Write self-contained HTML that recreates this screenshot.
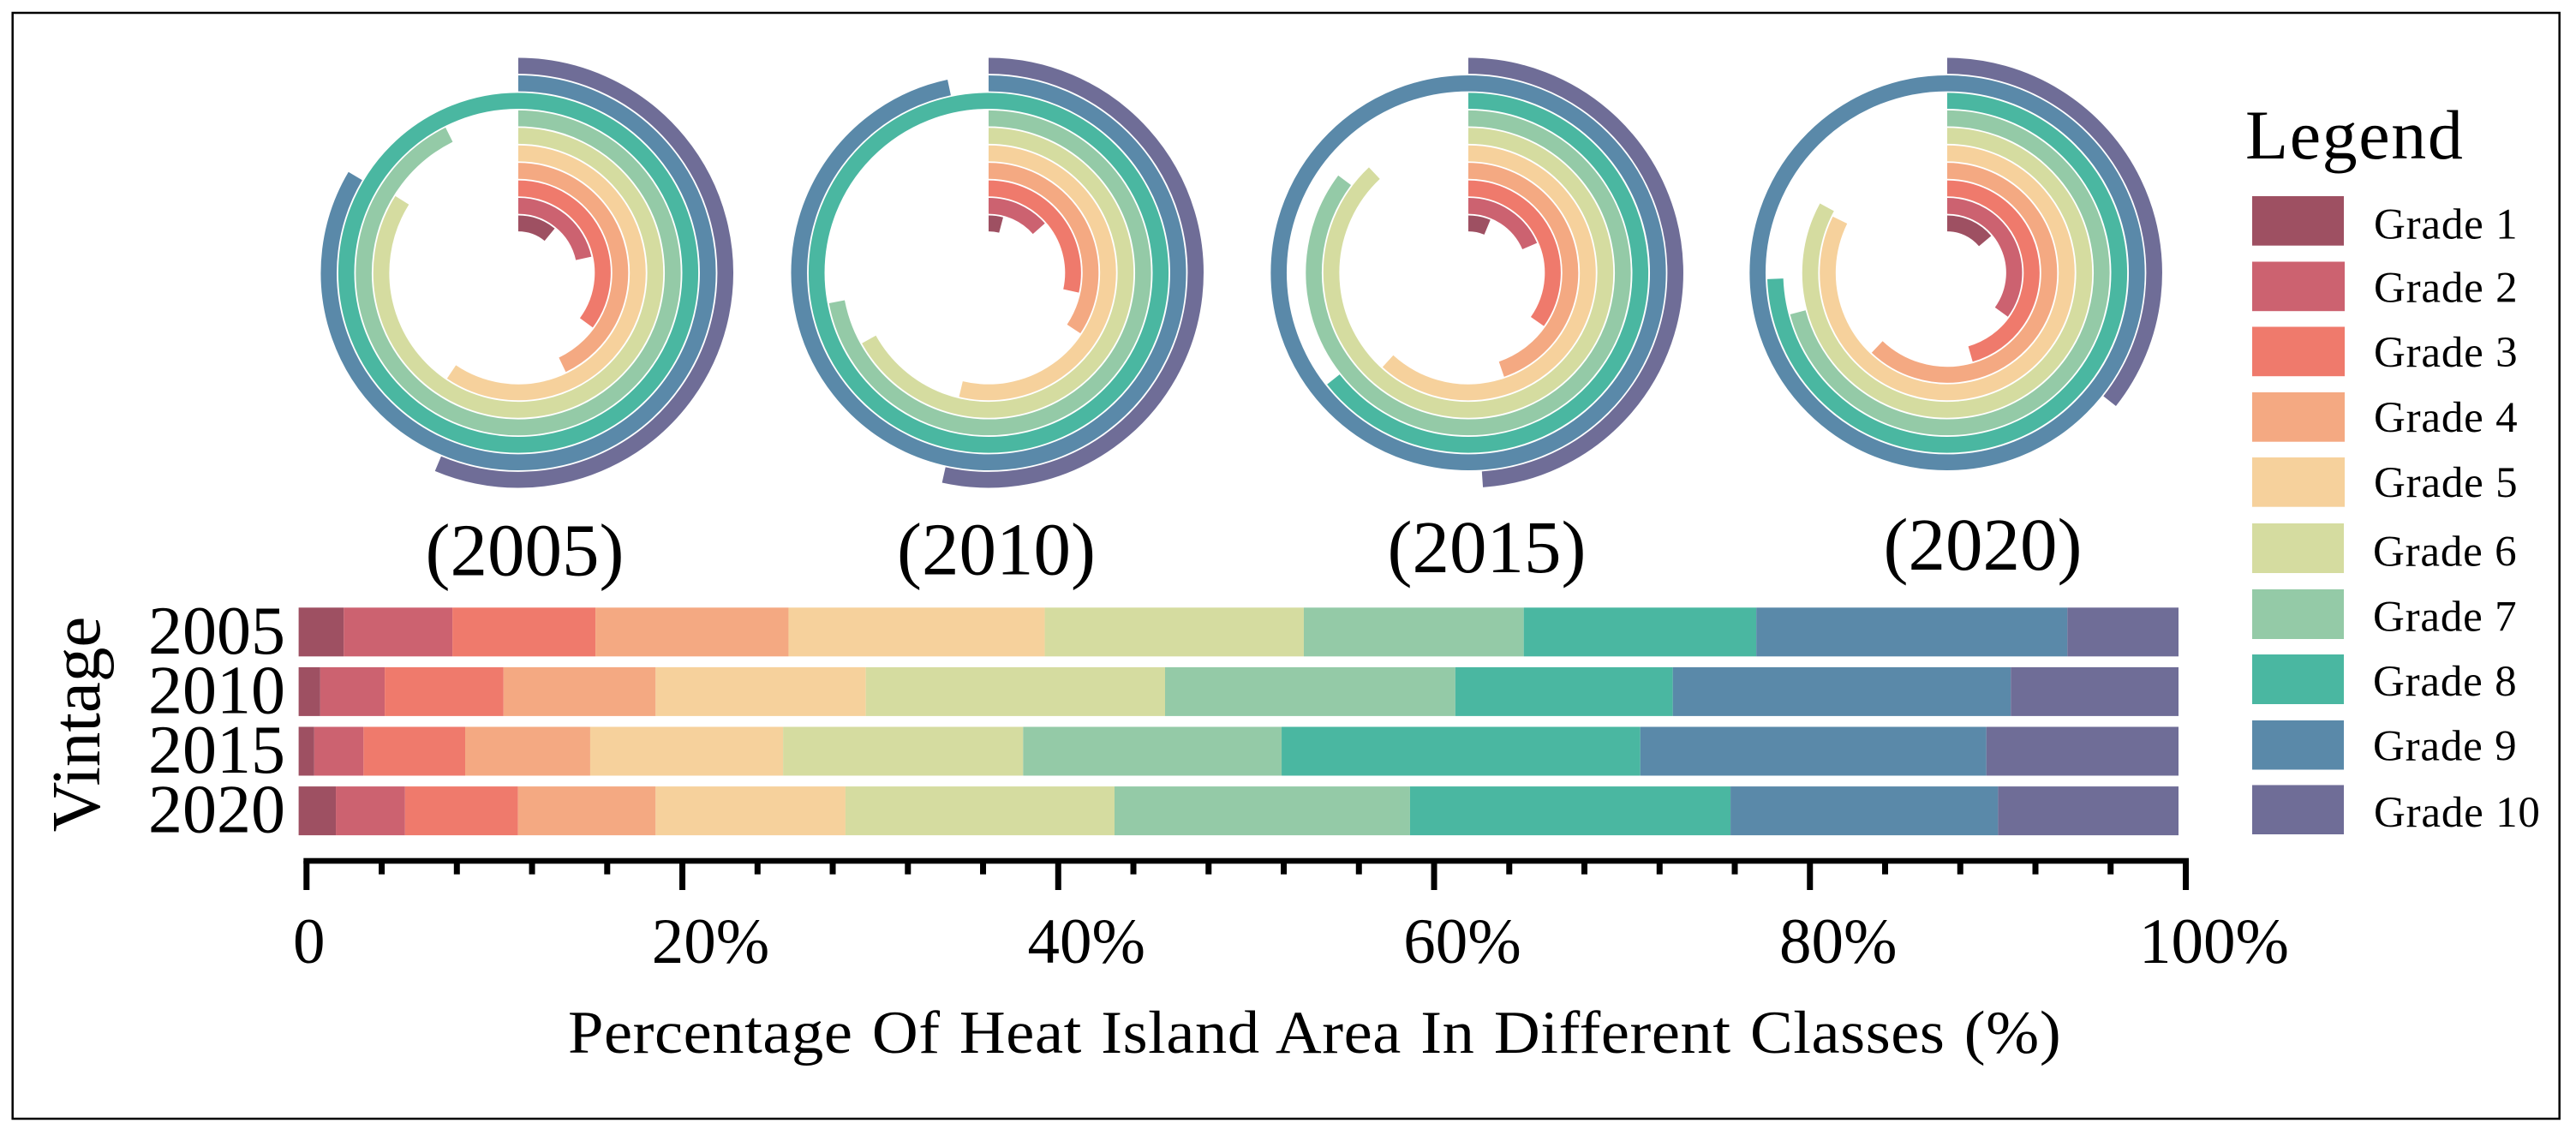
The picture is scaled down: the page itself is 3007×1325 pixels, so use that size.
<!DOCTYPE html>
<html lang="en">
<head>
<meta charset="utf-8">
<title>Percentage Of Heat Island Area In Different Classes</title>
<style>
  html, body { margin: 0; padding: 0; background: #fff; }
  svg { display: block; }
  text { font-family: "Liberation Serif", "Times New Roman", serif; fill: #000; }
</style>
</head>
<body>
<svg id="chart" xmlns="http://www.w3.org/2000/svg" width="3007" height="1325" viewBox="0 0 3007 1325">
  <rect x="0" y="0" width="3007" height="1325" fill="#ffffff"/>
  <rect x="14.7" y="15" width="2973" height="1291" fill="none" stroke="#000" stroke-width="2.5"/>

  <g id="donuts"></g>
  <g id="bars"></g>
  <g id="axis"></g>

  <text transform="translate(116 845.5) rotate(-90)" text-anchor="middle" font-size="81">Vintage</text>
  <text transform="translate(663 1229) scale(1.05 1)" x="0" y="0" font-size="71" word-spacing="3" letter-spacing="0.53">Percentage Of Heat Island Area In Different Classes (%)</text>

  <g>
    <text x="2621" y="185" font-size="82" letter-spacing="1.6">Legend</text>

    <rect x="2629" y="229" width="107" height="57.7" fill="#9e5062"/>
    <text x="2771" y="278.5" font-size="51" letter-spacing="0.8">Grade 1</text>
    <rect x="2629" y="305.5" width="108" height="57.7" fill="#cc6270"/>
    <text x="2771" y="352.5" font-size="51" letter-spacing="0.8">Grade 2</text>
    <rect x="2629" y="381.5" width="108" height="57.7" fill="#ef7a6c"/>
    <text x="2771" y="428" font-size="51" letter-spacing="0.8">Grade 3</text>
    <rect x="2629" y="458" width="108" height="57.7" fill="#f4a982"/>
    <text x="2771" y="504" font-size="51" letter-spacing="0.8">Grade 4</text>
    <rect x="2629" y="534" width="108" height="57.7" fill="#f6d19c"/>
    <text x="2771" y="580" font-size="51" letter-spacing="0.8">Grade 5</text>
    <rect x="2629" y="611" width="107" height="58" fill="#d5dca0"/>
    <text x="2770" y="660.5" font-size="51" letter-spacing="0.8">Grade 6</text>
    <rect x="2629" y="688" width="107" height="58" fill="#94caa7"/>
    <text x="2770" y="736.5" font-size="51" letter-spacing="0.8">Grade 7</text>
    <rect x="2629" y="764" width="107" height="58" fill="#4ab7a1"/>
    <text x="2770" y="812" font-size="51" letter-spacing="0.8">Grade 8</text>
    <rect x="2629" y="841" width="107" height="57.5" fill="#5a89a9"/>
    <text x="2770" y="887.5" font-size="51" letter-spacing="0.8">Grade 9</text>
    <rect x="2629" y="916.5" width="107" height="57.5" fill="#6f6d97"/>
    <text x="2771" y="965" font-size="51" letter-spacing="0.8">Grade 10</text>
  </g>
</svg>

<script>
// ---- Data ----
const vintages = ["2005", "2010", "2015", "2020"];
const grades = ["Grade 1", "Grade 2", "Grade 3", "Grade 4", "Grade 5", "Grade 6", "Grade 7", "Grade 8", "Grade 9", "Grade 10"];
const gradeColors = ["#9e5062", "#cc6270", "#ef7a6c", "#f4a982", "#f6d19c", "#d5dca0", "#94caa7", "#4ab7a1", "#5a89a9", "#6f6d97"];

// Stacked bar shares, percent of area per grade
const shares2005 = [2.4, 5.78, 7.61, 10.27, 13.63, 13.78, 11.7, 12.37, 16.55, 5.91];
const shares2010 = [1.15, 3.43, 6.32, 8.09, 11.18, 15.92, 15.44, 11.57, 17.98, 8.92];
const shares2015 = [0.83, 2.62, 5.41, 6.65, 10.26, 12.77, 13.75, 19.08, 18.41, 10.22];
const shares2020 = [1.98, 3.68, 6.01, 7.32, 10.1, 14.31, 15.72, 17.05, 14.23, 9.6];

// Radial bar sweep per grade, degrees clockwise from 12 o'clock
const sweep2005 = [39.4, 77.5, 126.3, 154.4, 214, 302, 333.4, 360, 300.7, 202.8];
const sweep2010 = [14.7, 48.7, 102.4, 123.4, 193.4, 240.9, 259.2, 360, 348, 192.5];
const sweep2015 = [22.6, 66.5, 125.2, 161, 222.3, 316.7, 306.8, 231.7, 360, 176.1];
const sweep2020 = [50, 125.9, 164, 223.4, 296.2, 298.6, 255.2, 268, 360, 128.3];

const xTicksMajor = [0, 20, 40, 60, 80, 100];
const xTickLabels = ["0", "20%", "40%", "60%", "80%", "100%"];
const xTicksMinor = [4, 8, 12, 16, 24, 28, 32, 36, 44, 48, 52, 56, 64, 68, 72, 76, 84, 88, 92, 96];

const allShares = [shares2005, shares2010, shares2015, shares2020];
const allSweeps = [sweep2005, sweep2010, sweep2015, sweep2020];

// ---- Axis functions ----
const SVGNS = "http://www.w3.org/2000/svg";
function barX(pct) { return 348.6 + pct * 21.944; }
function barTop(i) { return 709.3 + i * 69.6; }
const BAR_H = 57;
function axisX(pct) { return 357.8 + pct * 21.937; }
function ringOuter(k) { return 67 + k * 20.44; }
const RING_W = 18.6;
function donutCx(i) { return [605, 1154, 1714, 2273][i]; }
function donutCy() { return 318.5; }
function yearLabelX(i) { return [612.5, 1163, 1735.5, 2314.5][i]; }
function yearLabelY(i) { return [671.5, 670.7, 668, 665][i]; }

function point(cx, cy, r, deg) {
  const a = deg * Math.PI / 180;
  return [cx + r * Math.sin(a), cy - r * Math.cos(a)];
}
function arcPath(cx, cy, r, deg) {
  const d = Math.min(deg, 360);
  if (d >= 359.99) {
    const p0 = point(cx, cy, r, 0), p1 = point(cx, cy, r, 180);
    return "M" + p0[0] + " " + p0[1] + "A" + r + " " + r + " 0 1 1 " + p1[0] + " " + p1[1] +
           "A" + r + " " + r + " 0 1 1 " + p0[0] + " " + p0[1] + "Z";
  }
  const s = point(cx, cy, r, 0), e = point(cx, cy, r, d);
  return "M" + s[0] + " " + s[1] + "A" + r + " " + r + " 0 " + (d > 180 ? 1 : 0) + " 1 " + e[0] + " " + e[1];
}

// ---- Radial bars ----
const donutsG = document.getElementById("donuts");
vintages.forEach(function (year, i) {
  const g = document.createElementNS(SVGNS, "g");
  
  
  allSweeps[i].forEach(function (deg, k) {
    const p = document.createElementNS(SVGNS, "path");
    p.setAttribute("d", arcPath(donutCx(i), donutCy(), ringOuter(k) - RING_W / 2, deg));
    p.setAttribute("fill", "none");
    p.setAttribute("stroke", gradeColors[k]);
    p.setAttribute("stroke-width", RING_W);
    
    
    g.appendChild(p);
  });
  donutsG.appendChild(g);

  const t = document.createElementNS(SVGNS, "text");
  t.setAttribute("x", yearLabelX(i));
  t.setAttribute("y", yearLabelY(i));
  t.setAttribute("text-anchor", "middle");
  t.setAttribute("font-size", 87);
  t.textContent = "(" + year + ")";
  
  
  donutsG.appendChild(t);
});

// ---- Stacked bars ----
const barsG = document.getElementById("bars");
vintages.forEach(function (year, i) {
  let cum = 0;
  allShares[i].forEach(function (v, k) {
    const r = document.createElementNS(SVGNS, "rect");
    r.setAttribute("x", barX(cum));
    r.setAttribute("y", barTop(i));
    r.setAttribute("width", barX(cum + v) - barX(cum));
    r.setAttribute("height", BAR_H);
    r.setAttribute("fill", gradeColors[k]);
    
    
    barsG.appendChild(r);
    cum += v;
  });
  const t = document.createElementNS(SVGNS, "text");
  t.setAttribute("x", 333);
  t.setAttribute("y", barTop(i) + BAR_H / 2 + 25);
  t.setAttribute("text-anchor", "end");
  t.setAttribute("font-size", 80);
  t.textContent = year;
  
  
  barsG.appendChild(t);
});

// ---- X axis ----
const axisG = document.getElementById("axis");
const axisLine = document.createElementNS(SVGNS, "rect");
axisLine.setAttribute("x", axisX(0) - 3.5);
axisLine.setAttribute("y", 1001.7);
axisLine.setAttribute("width", axisX(100) - axisX(0) + 7);
axisLine.setAttribute("height", 6.6);
axisLine.setAttribute("fill", "#000");


axisG.appendChild(axisLine);

xTicksMinor.forEach(function (t) {
  const r = document.createElementNS(SVGNS, "rect");
  r.setAttribute("x", axisX(t) - 3.5);
  r.setAttribute("y", 1005);
  r.setAttribute("width", 7);
  r.setAttribute("height", 15.7);
  r.setAttribute("fill", "#000");
  
  
  axisG.appendChild(r);
});
xTicksMajor.forEach(function (t, i) {
  const r = document.createElementNS(SVGNS, "rect");
  r.setAttribute("x", axisX(t) - 3.5);
  r.setAttribute("y", 1005);
  r.setAttribute("width", 7);
  r.setAttribute("height", 34);
  r.setAttribute("fill", "#000");
  
  
  axisG.appendChild(r);

  const label = document.createElementNS(SVGNS, "text");
  label.setAttribute("x", axisX(t) + (t === 0 ? 3 : 33));
  label.setAttribute("y", 1124);
  label.setAttribute("text-anchor", "middle");
  label.setAttribute("font-size", 75);
  label.textContent = xTickLabels[i];
  
  
  axisG.appendChild(label);
});
</script>
</body>
</html>
